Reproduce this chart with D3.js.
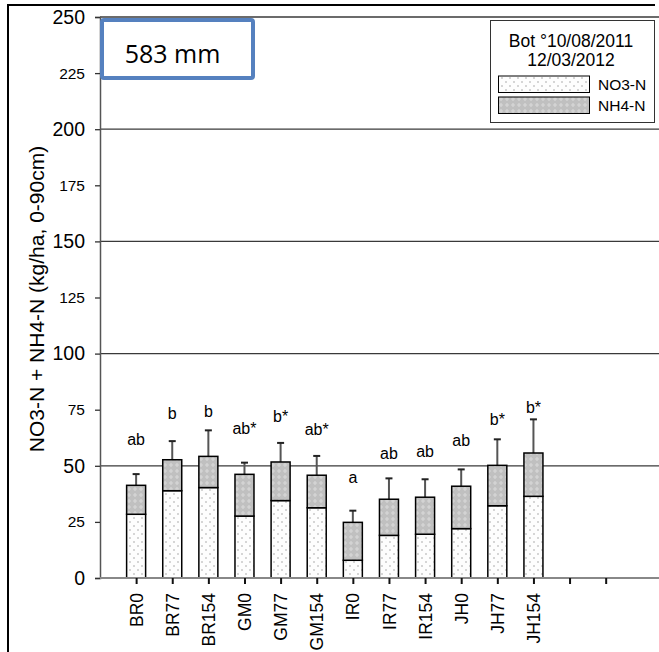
<!DOCTYPE html>
<html><head><meta charset="utf-8">
<script src="https://cdn.jsdelivr.net/npm/d3@7"></script>
<style>body{margin:0;background:#fff}svg{display:block}</style>
</head><body>
<svg id="c" width="659" height="652"></svg>
<script>
const categories = ["BR0","BR77","BR154","GM0","GM77","GM154","IR0","IR77","IR154","JH0","JH77","JH154","",""];
const no3 = [28.4,38.9,40.3,27.6,34.5,31.3,7.9,19.0,19.5,22.0,32.2,36.4];
const total = [41.3,52.7,54.2,46.2,51.7,45.8,24.8,35.1,36.0,40.9,50.2,55.7];
const errTop = [46.3,61.0,65.8,51.4,60.2,54.4,30.0,44.4,44.0,48.4,61.8,70.7];
const letters = ["ab","b","b","ab*","b*","ab*","a","ab","ab","ab","b*","b*"];
const letterY = [61.5,73.1,74.0,66.4,71.9,66.0,44.9,55.6,56.3,61.2,70.7,76.1];
const yTicks = [0,25,50,75,100,125,150,175,200,225,250];
const gridVals = [50,100,150,200,250];

const svg = d3.select("#c");
const font = "Liberation Sans, Arial, sans-serif";
const defs = svg.append("defs");
const p1 = defs.append("pattern").attr("id","pNO3").attr("patternUnits","userSpaceOnUse").attr("width",8).attr("height",8);
p1.append("rect").attr("width",8).attr("height",8).attr("fill","#fdfdfd");
p1.append("circle").attr("cx",2).attr("cy",2).attr("r",1).attr("fill","#c8c8c8");
p1.append("circle").attr("cx",6).attr("cy",6).attr("r",1).attr("fill","#c8c8c8");
const p2 = defs.append("pattern").attr("id","pNH4").attr("patternUnits","userSpaceOnUse").attr("width",6).attr("height",6);
p2.append("rect").attr("width",6).attr("height",6).attr("fill","#c0c0c0");
p2.append("path").attr("d","M1,3H5M3,1V5").attr("stroke","#d8d8d8").attr("stroke-width",1.2);

const y = d3.scaleLinear().domain([0,250]).range([578,17]);
const x = d3.scaleLinear().domain([0,15]).range([100,100+15*36.12]);
const xc = i => x(i+1);

// frame
svg.append("line").attr("x1",8).attr("x2",655).attr("y1",5).attr("y2",5).attr("stroke","#000").attr("stroke-width",2);
svg.append("line").attr("x1",8).attr("x2",8).attr("y1",4).attr("y2",652).attr("stroke","#000").attr("stroke-width",2);

// gridlines
svg.append("g").selectAll("line").data(gridVals).join("line")
  .attr("x1",100).attr("x2",659).attr("y1",d=>y(d)).attr("y2",d=>y(d))
  .attr("stroke","#3a3a3a").attr("stroke-width",1.3);

// y axis
const yAxis = d3.axisLeft(y).tickValues(yTicks).tickSize(5).tickPadding(10);
const gy = svg.append("g").attr("transform","translate(100,0)").call(yAxis);
gy.select(".domain").attr("stroke","#555").attr("stroke-width",1.5);
gy.selectAll(".tick line").attr("stroke","#333").attr("stroke-width",1.3);
gy.selectAll(".tick text").attr("font-family",font).attr("fill","#000")
  .attr("font-size",d=>d%50===0?19.5:15.5);

// bars
const bars = svg.append("g");
no3.forEach((v,i)=>{
  const cx = xc(i), w = 19;
  bars.append("line").attr("x1",cx).attr("x2",cx).attr("y1",y(total[i])).attr("y2",y(errTop[i]))
    .attr("stroke","#555").attr("stroke-width",2);
  bars.append("line").attr("x1",cx-3.5).attr("x2",cx+3.5).attr("y1",y(errTop[i])).attr("y2",y(errTop[i]))
    .attr("stroke","#222").attr("stroke-width",2);
  bars.append("rect").attr("x",cx-w/2).attr("y",y(v)).attr("width",w).attr("height",y(0)-y(v))
    .attr("fill","url(#pNO3)").attr("stroke","#000").attr("stroke-width",1.5);
  bars.append("rect").attr("x",cx-w/2).attr("y",y(total[i])).attr("width",w).attr("height",y(v)-y(total[i]))
    .attr("fill","url(#pNH4)").attr("stroke","#000").attr("stroke-width",1.5);
  bars.append("text").attr("x",cx).attr("y",y(letterY[i])+5.5).attr("text-anchor","middle")
    .attr("font-family",font).attr("font-size",16).text(letters[i]);
});

// x axis
const xAxis = d3.axisBottom(x).tickValues(d3.range(1,15)).tickSize(6).tickPadding(8)
  .tickFormat(d=>categories[d-1]);
const gx = svg.append("g").attr("transform","translate(0,578)").call(xAxis);
gx.select(".domain").attr("d","M100,0H659").attr("stroke","#888").attr("stroke-width",2);
gx.selectAll(".tick line").attr("stroke","#111").attr("stroke-width",2);
gx.selectAll(".tick text").attr("font-family",font).attr("font-size",17.5).attr("fill","#000")
  .attr("transform","rotate(-90)").attr("text-anchor","end").attr("x",-15).attr("y",0).attr("dy","0.35em");

// y title
svg.append("text").attr("transform","translate(44,299) rotate(-90)").attr("text-anchor","middle")
  .attr("font-family",font).attr("font-size",21).text("NO3-N + NH4-N (kg/ha, 0-90cm)");

// 583 mm box
svg.append("rect").attr("x",102).attr("y",20).attr("width",151).attr("height",58).attr("rx",2)
  .attr("fill","#fff").attr("stroke","#5581bf").attr("stroke-width",4);
svg.append("text").attr("x",172.5).attr("y",63).attr("text-anchor","middle")
  .attr("font-family","Open Sans, Lato, sans-serif").attr("font-size",25).text("583 mm");

// legend
const lg = svg.append("g");
lg.append("rect").attr("x",490.5).attr("y",20.5).attr("width",164).attr("height",102)
  .attr("fill","#fff").attr("stroke","#333").attr("stroke-width",1);
lg.append("text").attr("x",571).attr("y",47).attr("text-anchor","middle").attr("font-family",font).attr("font-size",17.5).text("Bot °10/08/2011");
lg.append("text").attr("x",571).attr("y",65.5).attr("text-anchor","middle").attr("font-family",font).attr("font-size",17.5).text("12/03/2012");
const legItems = [["NO3-N","url(#pNO3)"],["NH4-N","url(#pNH4)"]];
legItems.forEach((d,i)=>{
  lg.append("rect").attr("x",498.5).attr("y",76+i*21).attr("width",91).attr("height",16.5)
    .attr("fill",d[1]).attr("stroke","#000").attr("stroke-width",1);
  lg.append("text").attr("x",598).attr("y",84.5+i*21).attr("dy","0.35em").attr("font-family",font).attr("font-size",15.5).text(d[0]);
});
</script>
</body></html>
